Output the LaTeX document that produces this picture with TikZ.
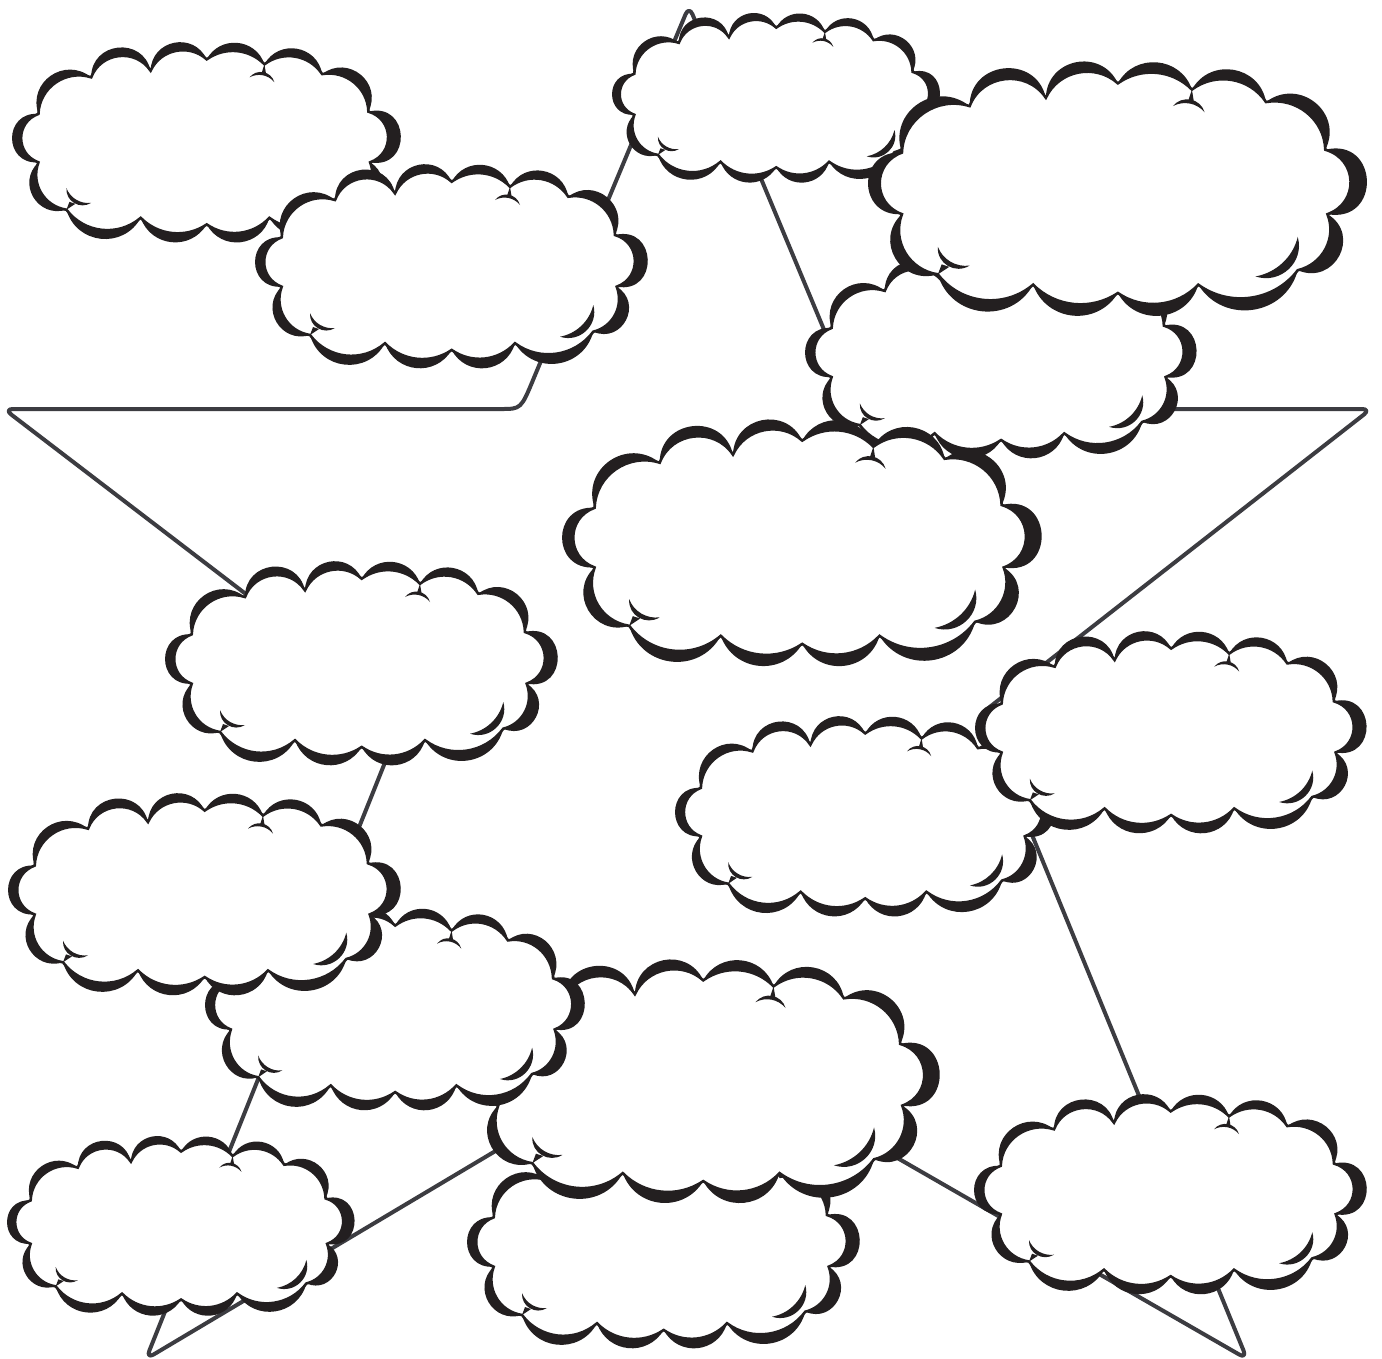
\documentclass[tikz,border=0pt]{standalone}
\usetikzlibrary{calc}
\definecolor{cink}{HTML}{231F20}
\definecolor{sline}{HTML}{3C3C41}
\tikzset{
  lob/.style 2 args={bend left={#1},looseness={#2}},
  lobr/.style 2 args={bend right={#1},looseness={#2}},
  starline/.style={draw=sline,line width=4pt,line join=round,line cap=round},
}
\newcommand\cloudshape{%
  \coordinate (q1) at (26.7,74.3);
  \coordinate (q2) at (80,37);
  \coordinate (q3) at (140,30.3);
  \coordinate (q4) at (196.7,18.7);
  \coordinate (q5) at (255,23.7);
  \coordinate (q6) at (313.3,33.7);
  \coordinate (q7) at (360,72);
  \coordinate (q8) at (361.7,123.7);
  \coordinate (q9) at (338.3,168.7);
  \coordinate (q10) at (260,180.3);
  \coordinate (q11) at (196.7,187);
  \coordinate (q12) at (130,180.3);
  \coordinate (q13) at (55,172);
  \coordinate (q14) at (26.7,123.7);
  \fill[cink] (q14) to[lob={94}{1.85}] (q1) to[lob={74}{1.35}] (q2)
    to[lob={84}{1.54}] (q3) to[lob={77}{1.40}] (q4) to[lob={67}{1.23}] (q5)
    to[lob={71}{1.29}] (q6) to[lob={77}{1.40}] (q7) to[lob={102}{2.15}] (q8)
    to[lob={86}{1.6}] (q9) to[lob={67}{1.23}] (q10) to[lob={68}{1.25}] (q11)
    to[lob={65}{1.21}] (q12) to[lob={68}{1.25}] (q13) to[lob={77}{1.40}] (q14) -- cycle;
  \filldraw[fill=white,draw=cink,line width=2.6pt] (q14) to[lob={70}{1.29}] (q1)
    to[lob={53}{1.06}] (q2) to[lob={63}{1.17}] (q3) to[lob={54}{1.07}] (q4)
    to[lob={41}{0.98}] (q5) to[lob={47}{1.02}] (q6) to[lob={49}{1.03}] (q7)
    to[lob={72}{1.32}] (q8) to[lob={49}{1.03}] (q9) to[lob={45}{1.0}] (q10)
    to[lob={41}{0.98}] (q11) to[lob={40}{0.97}] (q12) to[lob={47}{1.02}] (q13)
    to[lob={51}{1.05}] (q14) -- cycle;
  % top curl
  \coordinate (a1) at (240,37);
  \coordinate (a2) at (265,42);
  \fill[cink] (a1) to[lob={63}{1.18}] (a2) to[lobr={40}{0.97}] (a1) -- cycle;
  \fill[cink] (q5) -- (252,33) -- (256.5,33) -- cycle;
  % bottom-left curl
  \coordinate (b1) at (55,150);
  \coordinate (b2) at (80,165);
  \fill[cink] (b1) to[lobr={63}{1.18}] (b2) to[lob={38}{0.96}] (b1) -- cycle;
  \fill[cink] (q13) -- (58,164) -- (64,166) -- cycle;
  % bottom-right curl
  \coordinate (c1) at (338.3,142);
  \coordinate (c2) at (305,173.7);
  \fill[cink] (c1) to[lob={62}{1.16}] (c2) to[lobr={33}{0.93}] (c1) -- cycle;
}
\newcommand\cloudat[4]{\begin{scope}[shift={(#1,#2)},xscale=#3,yscale=#4]\cloudshape\end{scope}}
\begin{document}
\begin{tikzpicture}[x=1pt,y=-1pt]
\fill[white] (0,0) rectangle (1382,1358);
\useasboundingbox (0,0) rectangle (1382,1358);
% star vertices
\coordinate (L) at (4,409);
\coordinate (ULa) at (492,409);
\coordinate (UL) at (521,409);
\coordinate (ULb) at (537.1,370.2);
\coordinate (T) at (689,6);
\coordinate (URa) at (840.9,370.2);
\coordinate (UR) at (857,409);
\coordinate (URb) at (886,409);
\coordinate (R) at (1371,409);
\coordinate (IR) at (982,713);
\coordinate (BR) at (1247,1359);
\coordinate (B) at (687,1037);
\coordinate (BL) at (146,1359);
\coordinate (IL) at (404,715);
\draw[starline,rounded corners=9pt] (L) -- (ULa) .. controls (UL) .. (ULb) -- (T) -- (URa)
  .. controls (UR) .. (URb) -- (R) -- (IR) -- (BR) -- (B) -- (BL) -- (IL) -- cycle;
% clouds
\cloudat{12}{41}{0.990}{0.981}
\cloudat{255}{163}{1}{1}
\cloudat{612}{12}{0.835}{0.831}
\cloudat{805}{254}{0.997}{0.995}
\cloudat{868}{60}{1.270}{1.246}
\cloudat{562}{418}{1.221}{1.208}
\cloudat{165}{560}{1.0}{1.0}
\cloudat{675}{715}{0.967}{0.981}
\cloudat{975}{630}{0.997}{0.990}
\cloudat{467}{1143}{1.0}{1.0}
\cloudat{466}{958}{1.206}{1.193}
\cloudat{205}{907}{0.967}{0.990}
\cloudat{8}{792}{1.0}{0.99}
\cloudat{7}{1135}{0.885}{0.88}
\cloudat{974}{1093}{1.0}{0.98}
\end{tikzpicture}
\end{document}
